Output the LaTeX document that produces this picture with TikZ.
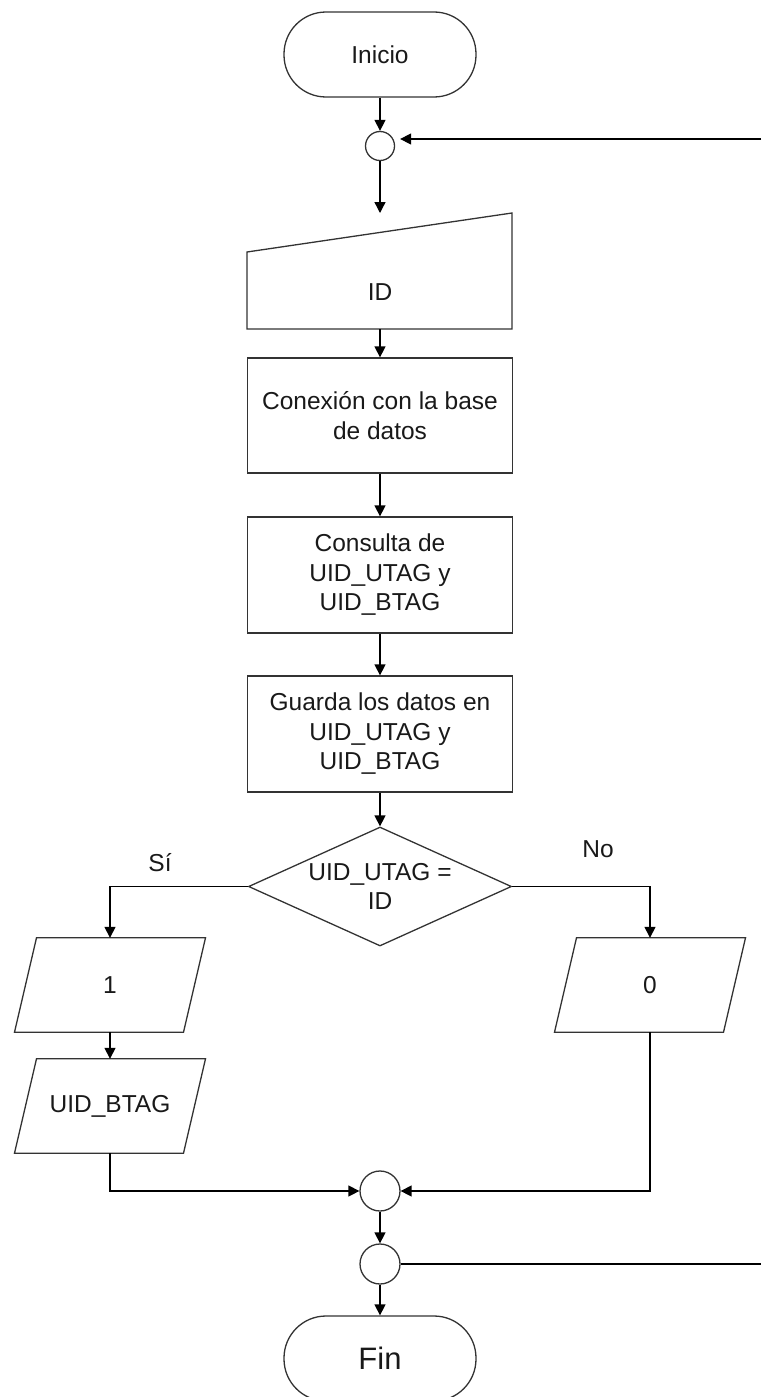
\documentclass[tikz,border=0pt]{standalone}
\usepackage{fontspec}
\setmainfont{Liberation Sans}
\usetikzlibrary{arrows.meta,shapes.geometric,calc}
\newcommand\ioshape[1]{\draw[shapeline] ($(#1.north)+(-73.5,0)$) -- ($(#1.north)+(95.5,0)$) -- ($(#1.south)+(73.5,0)$) -- ($(#1.south)+(-95.5,0)$) -- cycle;}
\begin{document}
\begin{tikzpicture}[x=1pt,y=-1pt,
 every node/.style={font=\fontsize{24.5}{29.5}\selectfont, text=black!90},
 shapeline/.style={draw=black!80, line width=1.3pt},
 proc/.style={shapeline, rectangle, minimum width=265pt, minimum height=116pt, inner sep=0pt, align=center},
 term/.style={shapeline, rectangle, rounded corners=42pt, minimum width=192pt, minimum height=85pt, inner sep=0pt},
 conn/.style={shapeline, circle, inner sep=0pt},
 iotext/.style={minimum height=94pt, inner sep=0pt},
 decision/.style={shapeline, diamond, aspect=2.21, minimum width=263pt, minimum height=119pt, inner sep=0pt, align=center},
 arr/.style={line width=1.4pt, -{Triangle[length=11pt,width=11pt]}},
 ln/.style={line width=1.4pt},
]
\useasboundingbox (0,0) rectangle (761,1397);
\clip (0,0) rectangle (761,1397);

\node[term] (ini) at (380,54.5) {Inicio};
\node[conn, minimum size=29pt] (c1) at (380,146) {};
\coordinate (mitop) at (380,213);
\node (idt) at (380,292) {ID};
\coordinate (mibot) at (380,329);
\draw[shapeline] (247,329) -- (247,252) -- (512,213) -- (512,329) -- cycle;
\node[proc, minimum height=115pt] (r1) at (380,415.5) {Conexión con la base\\de datos};
\node[proc] (r2) at (380,575) {Consulta de\\UID\_UTAG y\\UID\_BTAG};
\node[proc] (r3) at (380,734) {Guarda los datos en\\UID\_UTAG y\\UID\_BTAG};
\node[decision] (d) at (380,886.5) {UID\_UTAG =\\ID};

\node[iotext] (p1) at (110,985) {1};
\node[iotext] (p2) at (110,1106) {UID\_BTAG};
\node[iotext] (p0) at (650,985) {0};
\ioshape{p1}
\ioshape{p2}
\ioshape{p0}

\node (si) at (160,863) {Sí};
\node (no) at (598,849) {No};

\node[conn, minimum size=40pt] (c3) at (380,1191) {};
\node[conn, minimum size=40pt] (c4) at (380,1264) {};
\node[term, font=\fontsize{31}{36}\selectfont] (fin) at (380,1358.5) {Fin};
\coordinate (e1) at (761,1264);
\coordinate (e2) at (761,139);

\draw[arr] (ini) -- (c1);
\draw[arr] (c1) -- (mitop);
\draw[arr] (mibot) -- (r1);
\draw[arr] (r1) -- (r2);
\draw[arr] (r2) -- (r3);
\draw[arr] (r3) -- (d);
\draw[arr] (d.west) -| (p1.north);
\draw[arr] (d.east) -| (p0.north);
\draw[arr] (p1.south) -- (p2.north);
\draw[arr] (p2.south) |- (c3.west);
\draw[arr] (p0.south) |- (c3.east);
\draw[arr] (c3) -- (c4);
\draw[ln] (c4.east) -- (e1);
\draw[arr] (e2) -- ($(c1.east |- e2)+(5,0)$);
\draw[arr] (c4) -- (fin);
\end{tikzpicture}
\end{document}
